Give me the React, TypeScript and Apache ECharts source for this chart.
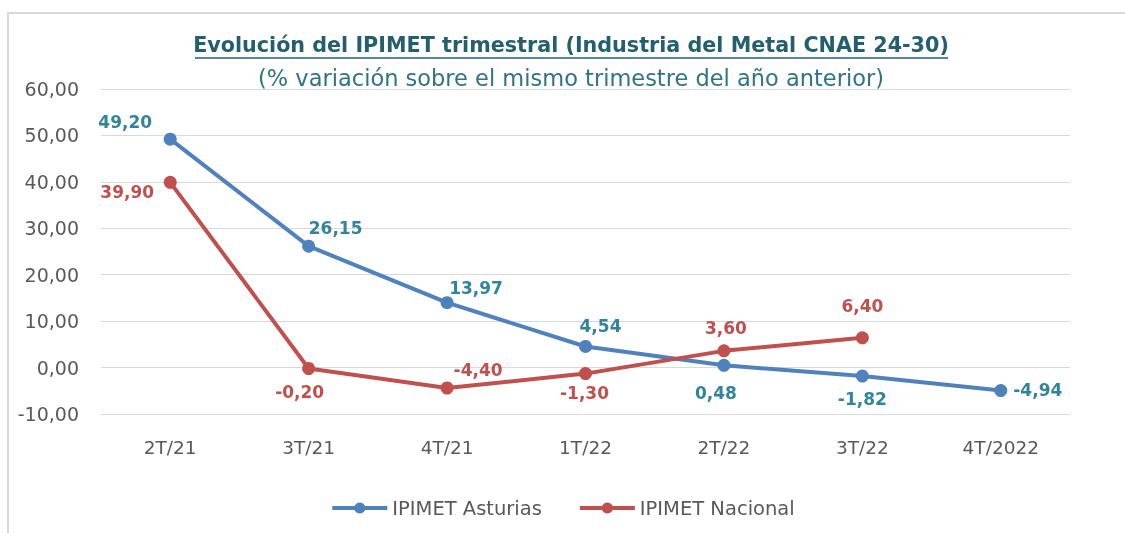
import React, { useEffect, useRef } from "react";
import * as echarts from "echarts";

const categories = ["2T/21", "3T/21", "4T/21", "1T/22", "2T/22", "3T/22", "4T/2022"];
const asturias = [49.2, 26.15, 13.97, 4.54, 0.48, -1.82, -4.94];
const nacional: (number | null)[] = [39.9, -0.2, -4.4, -1.3, 3.6, 6.4, null];
const seriesNames = ["IPIMET Asturias", "IPIMET Nacional"];
const titleText = "Evolución del IPIMET trimestral (Industria del Metal CNAE 24-30)";
const subtitleText = "(% variación sobre el mismo trimestre del año anterior)";

const asturiasOffsets = [[-45, -17], [27, -18], [29, -15], [15, -20], [-8, 28], [0, 23], [37, -1]];
const nacionalOffsets = [[-43, 10], [-9, 23], [31, -18], [-1, 19], [2, -23], [0, -32], [0, 0]];

const FONT = "DejaVu Sans";
const fmt = (v: number) => v.toFixed(2).replace(".", ",");

export default function App() {
  const ref = useRef<HTMLDivElement>(null);
  useEffect(() => {
    if (!ref.current) return;
    const chart = echarts.init(ref.current, null, { renderer: "svg" });
    const mk = (vals: (number | null)[], offs: number[][]) =>
      vals.map((v, i) =>
        v === null ? null : { value: v, label: { position: "inside", offset: offs[i] } }
      );
    chart.setOption({
      animation: false,
      textStyle: { fontFamily: FONT },
      graphic: [
        { type: "rect", shape: { x: 8, y: 13, width: 1200, height: 600 }, style: { fill: "none", stroke: "#D9D9D9", lineWidth: 2 }, silent: true },
        { type: "text", x: 571, y: 45, style: { text: titleText, font: `bold 20.7px '${FONT}'`, fill: "#245F6E", textAlign: "center", textVerticalAlign: "middle" } },
        { type: "line", shape: { x1: 195, y1: 58, x2: 948, y2: 58 }, style: { stroke: "#245F6E", lineWidth: 1.3 } },
        { type: "text", x: 571, y: 78, style: { text: subtitleText, font: `22.5px '${FONT}'`, fill: "#2F7385", textAlign: "center", textVerticalAlign: "middle" } },
      ],
      legend: {
        bottom: 10,
        left: "center",
        itemWidth: 55,
        itemHeight: 14,
        itemGap: 36,
        lineStyle: { width: 4 },
        textStyle: { fontSize: 19.5, color: "#595959", fontFamily: FONT },
        data: seriesNames,
      },
      grid: { left: 101, right: 55, top: 89, bottom: 119 },
      xAxis: {
        type: "category",
        data: categories,
        boundaryGap: true,
        axisLine: { show: false },
        axisTick: { show: false },
        axisLabel: { color: "#595959", fontSize: 18.5, margin: 24, fontFamily: FONT },
      },
      yAxis: {
        type: "value",
        min: -10,
        max: 60,
        interval: 10,
        axisLine: { show: false },
        axisTick: { show: false },
        splitLine: { lineStyle: { color: "#D9D9D9", width: 1 } },
        axisLabel: { color: "#595959", fontSize: 19, margin: 22, fontFamily: FONT, formatter: (v: number) => fmt(v) },
      },
      series: [
        {
          name: seriesNames[0],
          type: "line",
          data: mk(asturias, asturiasOffsets),
          lineStyle: { color: "#4F81BD", width: 4 },
          itemStyle: { color: "#4F81BD" },
          symbol: "circle",
          symbolSize: 13,
          label: { show: true, color: "#31849B", fontWeight: "bold", fontSize: 17, fontFamily: FONT, formatter: (p: any) => fmt(p.value) },
        },
        {
          name: seriesNames[1],
          type: "line",
          data: mk(nacional, nacionalOffsets),
          lineStyle: { color: "#C0504D", width: 4 },
          itemStyle: { color: "#C0504D" },
          symbol: "circle",
          symbolSize: 13,
          label: { show: true, color: "#C0504D", fontWeight: "bold", fontSize: 17, fontFamily: FONT, formatter: (p: any) => fmt(p.value) },
        },
      ],
    });
    return () => chart.dispose();
  }, []);
  return <div ref={ref} style={{ position: "fixed", left: 0, top: 0, width: 1125, height: 533 }} />;
}
